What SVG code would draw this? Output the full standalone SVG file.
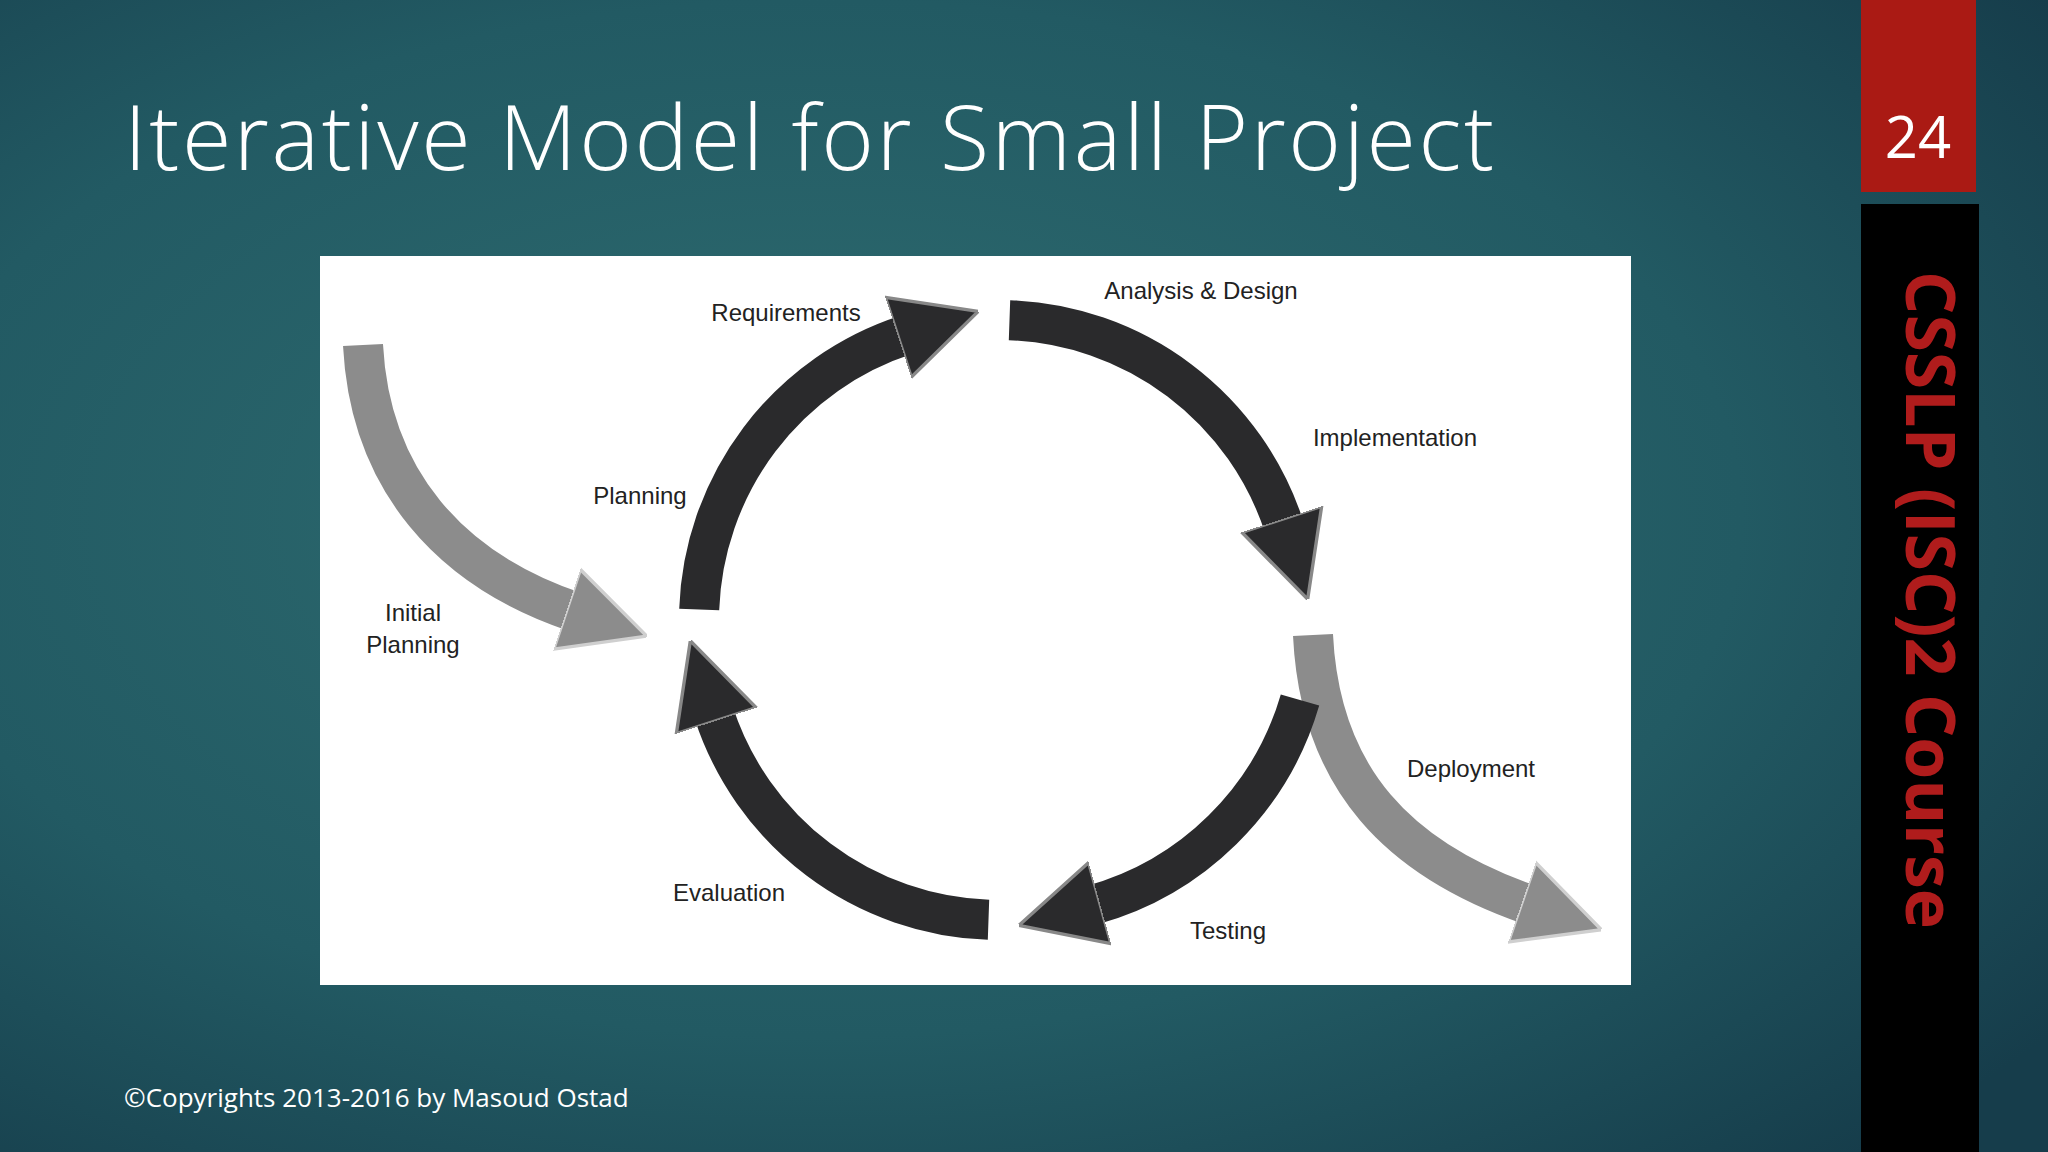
<svg xmlns="http://www.w3.org/2000/svg" width="2048" height="1152" viewBox="0 0 2048 1152">
<defs>
<radialGradient id="bg" cx="0.4" cy="0.45" r="0.75">
<stop offset="0" stop-color="#2f6d71"/><stop offset="0.6" stop-color="#225a63"/><stop offset="1" stop-color="#163d4b"/>
</radialGradient>
<marker id="hb" viewBox="0 0 10 10" refX="1" refY="5" markerWidth="2.1" markerHeight="2.4" orient="auto" markerUnits="strokeWidth"><path d="M0,0 L10,5 L0,10 Z" fill="#2a2a2c" stroke="#888" stroke-width="0.4"/></marker>
<marker id="hg" viewBox="0 0 10 10" refX="1" refY="5" markerWidth="2.1" markerHeight="2.4" orient="auto" markerUnits="strokeWidth"><path d="M0,0 L10,5 L0,10 Z" fill="#8c8c8c" stroke="#cfcfcf" stroke-width="0.4"/></marker>
<style>
.blk{fill:none;stroke:#2a2a2c;stroke-width:40;marker-end:url(#hb)}
.gry{fill:none;stroke:#8c8c8c;stroke-width:40;marker-end:url(#hg)}
.lbl{font-family:"Liberation Sans",sans-serif;font-size:24px;fill:#222;text-anchor:middle}
</style>
</defs>
<rect width="2048" height="1152" fill="url(#bg)"/>
<text x="124" y="170" font-family="'Open Sans',sans-serif" font-weight="300" font-size="90" fill="#fff" textLength="1370" lengthAdjust="spacing">Iterative Model for Small Project</text>
<rect x="1861" y="0" width="115" height="192" fill="#aa1a14"/>
<text x="1918" y="158" font-family="'Open Sans',sans-serif" font-size="58" fill="#fff" text-anchor="middle">24</text>
<rect x="1861" y="204" width="118" height="948" fill="#000"/>
<text transform="translate(1906,600) rotate(90)" font-family="'Open Sans',sans-serif" font-weight="700" font-size="68" fill="#b01c1c" text-anchor="middle">CSSLP (ISC)2 Course</text>
<text x="124" y="1107" font-family="'Open Sans',sans-serif" font-size="26" fill="#fff">©Copyrights 2013-2016 by Masoud Ostad</text>
<rect x="320" y="256" width="1311" height="729" fill="#fff"/>
<g id="connectors">
<path class="gry" d="M363 345 C370 480 450 570 575 612"/>
<path class="blk" d="M699.2 609.5 A300 300 0 0 1 906.3 334.7"/>
<path class="blk" d="M1009.5 320.2 A300 300 0 0 1 1284.3 527.3"/>
<path class="gry" d="M1313 635 C1320 780 1400 860 1530 905"/>
<path class="blk" d="M1300 700 A300 300 0 0 1 1091.7 905.3"/>
<path class="blk" d="M988.5 919.8 A300 300 0 0 1 713.7 712.7"/>
</g>
<g id="requirements"><text class="lbl" x="786" y="321">Requirements</text></g>
<g id="analysis"><text class="lbl" x="1201" y="299">Analysis &amp; Design</text></g>
<g id="implementation"><text class="lbl" x="1395" y="446">Implementation</text></g>
<g id="planning"><text class="lbl" x="640" y="504">Planning</text></g>
<g id="initial"><text class="lbl" x="413" y="621">Initial</text><text class="lbl" x="413" y="653">Planning</text></g>
<g id="deployment"><text class="lbl" x="1471" y="777">Deployment</text></g>
<g id="testing"><text class="lbl" x="1228" y="939">Testing</text></g>
<g id="evaluation"><text class="lbl" x="729" y="901">Evaluation</text></g>
</svg>
